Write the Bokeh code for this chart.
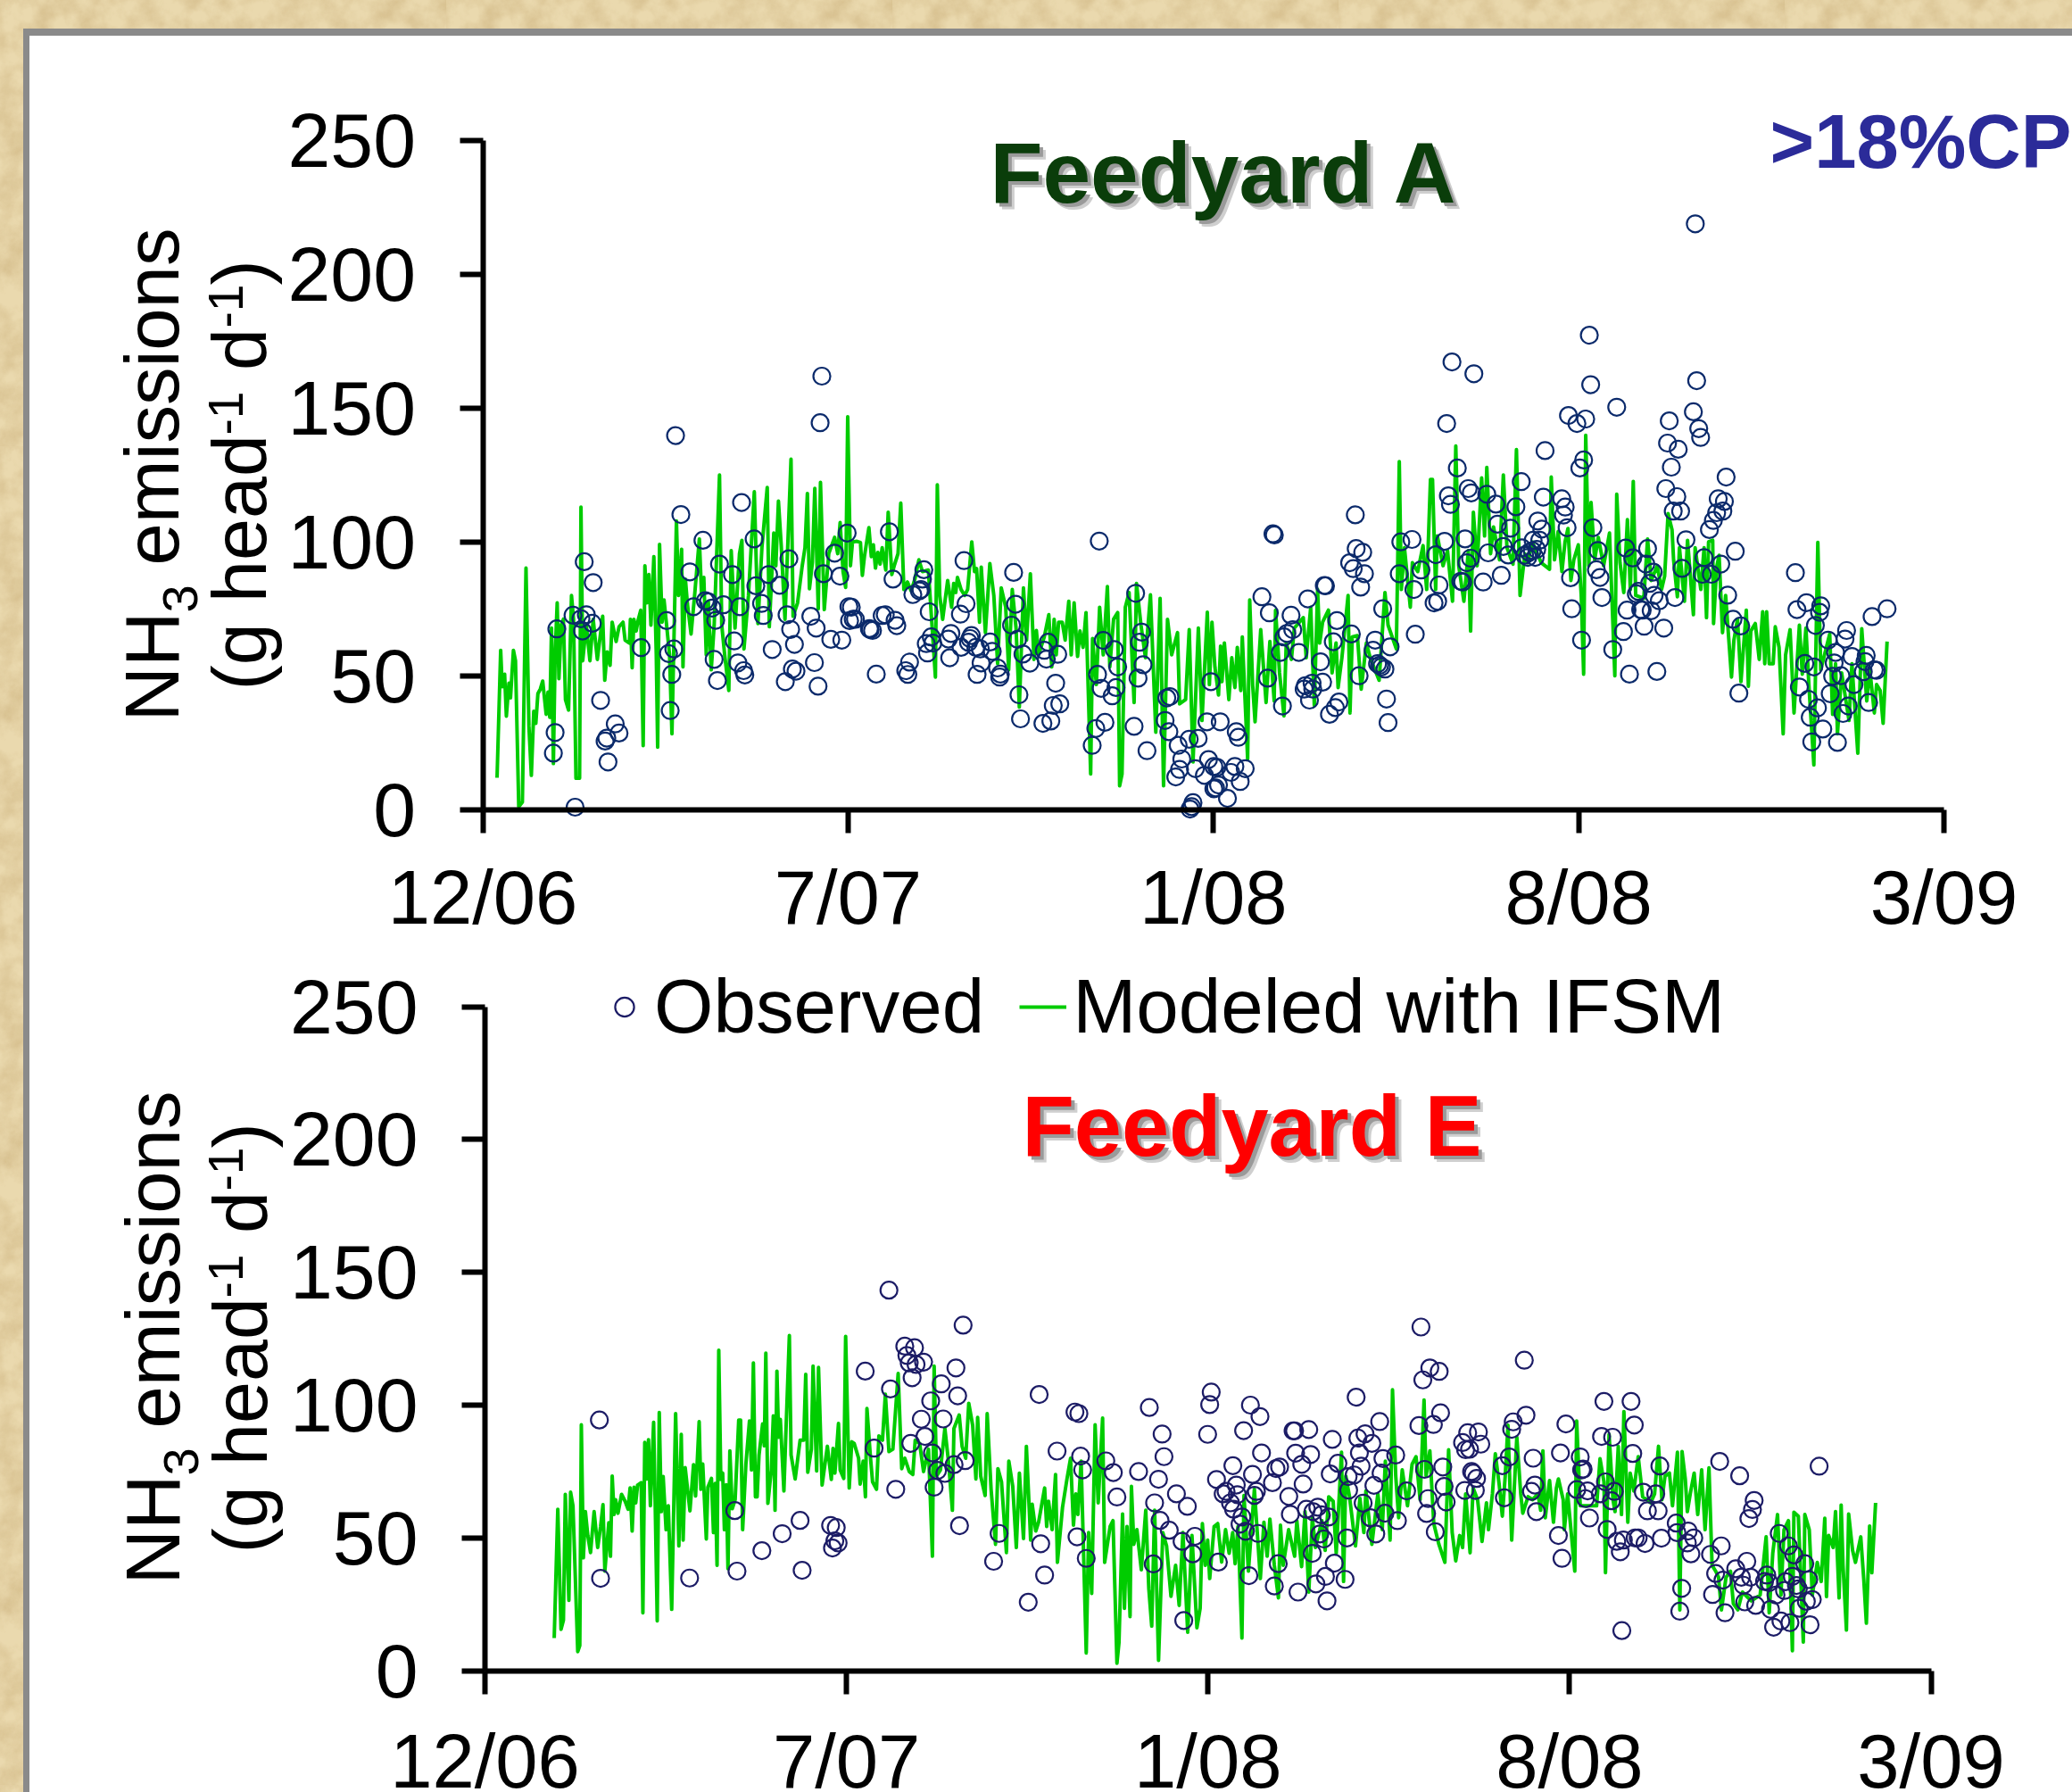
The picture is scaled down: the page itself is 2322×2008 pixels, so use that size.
from bokeh.plotting import figure
from bokeh.layouts import column
from bokeh.models import FixedTicker, Label, Legend, LegendItem
from bokeh.embed import file_html
from bokeh.resources import INLINE

month_ticks = [0, 212, 424, 636, 848]
month_labels = ["12/06", "7/07", "1/08", "8/08", "3/09"]
value_ticks = [0, 50, 100, 150, 200, 250]

observed_a = [
(196.8,162),(195.8,144.6),(111.9,139.8),(115,110.3),(150.2,114.8),(127.8,100.7),(157.5,101.2),(211.5,103.4),(58.9,92.7),(64.1,84.9),
(120.2,88.9),(137.4,91.8),(144.9,87.9),(165.9,87.9),(158.5,83.7),(172.3,83.9),(177.7,93.8),(204.2,95.9),(197.7,88.2),(207.3,87.3),
(52.4,72.7),(60.1,72.9),(57,71.4),(63.6,69.7),(57.9,66.8),(43,67.6),(106.7,70.7),(122.4,75.9),(129.2,78.1),(130.9,77.7),
(133.1,75.4),(139.7,76.6),(149.2,75.9),(135.2,70.8),(161.8,77.1),(162.8,72.6),(176.6,72.9),(178.7,67.4),(190.4,72.3),(193.5,67.9),
(202,63.7),(208.4,63.4),(212.5,75.9),(215,71.2),(91.9,60.6),(145.9,63.1),(168,59.9),(180.9,61.8),(110.9,60.1),(107.8,58.4),
(109.7,50.6),(134.3,56.2),(136.2,48.3),(148.1,54.9),(151.4,52),(152.1,50.4),(179.7,52.6),(181.8,51.8),(175.6,47.9),(192.5,55),
(194.6,46.2),(108.8,37.1),(68.4,40.9),(76.9,32.1),(79.1,28.7),(72,26.8),(71,25.7),(42,28.9),(41,21.2),(72.7,17.9),(53.6,1),
(236,103.9),(238.1,86.2),(256,89.7),(255.2,86.2),(254.3,82.3),(253.4,81.8),(249.6,80.4),(259.1,74),(279.3,93.1),(280.5,77),
(277.2,73.1),(308.1,88.7),(309.2,76.8),(306.9,69),(310.4,63.7),(357.8,100.4),(378.9,80.9),(382.4,66.4),(381.1,62.6),(360.1,63.3),
(366.5,59.9),(368.5,53.4),(383.2,54.2),(380.3,49.2),(356.8,50.6),(358.9,45.4),(367.5,45.7),(365.3,42.6),(361.1,32.7),(355.8,30.4),
(353.7,24.1),(378,31.2),(385.5,22.1),(398.8,42.3),(397,41.8),(396,33.4),(398.2,29.2),(403.6,24.1),(410,26.4),(415.2,26.7),
(420.3,32.9),(422.6,47.9),(405.7,19),(404.4,15.1),(402.2,12.3),(413.6,15.4),(418.8,12.9),(421.2,18.8),(424.3,16.2),(424.3,7.9),
(412.2,2.7),(411.4,1.2),(410.5,0.3),(213.9,75.7),(216.3,71.2),(212.9,70.7),(224.9,67.3),(226.2,67),(224.4,67.7),(231.8,72.6),
(233.6,72.9),(239.3,70.8),(240.3,68.8),(228.4,50.7),(247.7,55.2),(245.5,52),(246.7,50.6),(260.3,64.6),(261.2,62.3),(257.4,62.1),
(258.1,58.6),(271.7,65.9),(270.2,63.8),(271,56.8),(283.6,65.1),(282.8,64),(281.9,62.6),(277.6,60.7),(286.2,60.7),(288.8,60.1),
(294.5,62.7),(295.7,59.2),(289.2,54.9),(286.9,50.6),(298.8,53),(300.4,50.7),(300,49.6),(313.5,58.2),(317.5,54.8),(328.2,62.6),
(325.9,59.6),(327.1,56.3),(333.7,58.1),(332.5,47.3),(311.2,43),(312.1,34),(331.1,39),(334.9,39.6),(329.7,33.2),(325.1,32.3),
(562.5,167.3),(575.2,162.9),(559.4,144.3),(630.1,147.3),(635,144.3),(640.1,146),(616.5,134.2),(565.6,127.7),(506.4,110.2),(458.6,103.1),
(459.4,102.7),(571.9,120),(573.7,118.4),(560.4,117.3),(561.6,114.1),(582.7,117.9),(588,114.2),(602.7,122.6),(599.6,113.2),(615.5,116.8),
(626.2,116.2),(628.2,113.1),(627.2,110.1),(629.3,105.4),(612.3,107.9),(614.6,104.9),(588.9,106.7),(596.5,105.2),(613.4,100.7),(609.6,100.7),
(539.3,101),(532.8,100.1),(558.2,100.3),(570.1,101.2),(553.1,95.3),(592.3,98.4),(583.5,96),(595.1,95.2),(573.3,94),(571.1,92.3),
(603,97.9),(604.7,95.1),(607.3,96.2),(606.5,94.3),(609.1,96.8),(610.8,94.3),(611.7,97.3),(631.3,86.7),(632,75.1),(506.9,97.6),
(510.7,96.2),(503.1,92.3),(505.2,90.1),(511.7,88.2),(509.5,83.2),(489.1,83.7),(488.4,83.8),(478.8,78.8),(452.2,79.6),(456.5,73.6),
(469.1,72.7),(470.1,67.3),(466.7,65.9),(465,64.6),(495.7,70.7),(493.6,62.8),(504.1,65.7),(462.9,58.8),(473.6,58.8),(486.2,55.3),
(455.5,49.2),(487.4,47.7),(481.3,47.3),(477.4,46.4),(481.7,45.1),(476.7,45.1),(479.8,41),(464.1,38.8),(496.9,40.3),(494.8,38.2),
(491.4,35.7),(508.6,50.1),(522.3,75.1),(517.9,63.4),(516.7,59.6),(526.6,60.9),(519.3,54.6),(520.5,54),(523.6,52.6),(521.6,53.4),
(524.5,41.4),(525.4,32.6),(544.5,89.6),(531.9,88.2),(540.4,82.3),(555,84),(554.2,77.9),(552.1,77.3),(568.7,85.1),(567.6,85.4),
(580.6,85.1),(591.1,87.6),(541.2,65.6),(428,32.9),(437.3,29.2),(438.5,27.1),(426.1,15.9),(442.5,15.4),(436.5,16.2),(434.2,14),
(439.6,10.6),(427,9.3),(432.2,4.3),(425.3,8.2),(703.7,218.9),(642.2,177.3),(643,158.8),(658.1,150.4),(704.5,160.3),(702.6,148.7),
(705.7,142.4),(706.8,139.1),(688.6,145.3),(687.6,137),(693.8,134.7),(689.8,128),(686.6,120),(693,117),(690.9,111.6),(695.2,111.6),
(638.9,130.7),(636.7,127.7),(721.6,124.3),(717,116.2),(720.6,115.2),(719.7,111.6),(716.1,111),(714.2,108.1),(711.9,104.7),(698.3,100.9),
(726.9,96.6),(708.8,94.2),(718.5,91.8),(696,90.2),(707.8,88),(713,88),(644.3,105.4),(647.2,96.9),(646.3,89.7),(648.4,86.8),
(649.5,79.3),(637.7,63.4),(655.8,59.9),(662,66.6),(665.5,50.7),(681.4,51.7),(663.3,97.8),(667.4,94.1),(676,97.6),(675,91.8),
(679.3,88.8),(677.2,84.6),(670.7,81.6),(669.5,80.7),(679.8,80.1),(682.8,78.1),(691.9,79.3),(664.1,74.6),(672,74.8),(672.9,74.6),
(678.1,74.4),(674,68.6),(685.4,67.9),(722.5,80.2),(725.6,71.2),(730.1,68.7),(729,43.6),(761.8,88.6),(768.2,77.4),(762.7,74.8),
(776.5,76.2),(775.8,73.8),(773.4,68.9),(815,75.1),(806.3,72.2),(791.5,67),(790.6,63.8),(780.8,63.4),(785.1,58.8),(784.3,54.9),
(794.6,57.3),(802.9,57.7),(802.2,55.4),(801.2,51.6),(807.6,52.3),(808.8,52.1),(767.3,54.7),(772.5,53.4),(783.4,49.9),(788.2,50.1),
(795.8,46.8),(764.1,45.9),(782,43.4),(769.4,41.3),(774.6,38.1),(770.4,34.6),(792.5,38.8),(789.4,36),(804.3,40.1),(777.7,30.2),
(771.3,25.4),(786.2,25.2),
]

modeled_a = [
(8.3,12),(10.4,59.6),(11.3,46),(12.7,50.7),(13.7,35),(15.2,47.3),(16.1,41.8),(17.8,59.6),(19,55.7),(20.9,1.2),(23,2.9),(25.1,90.3),
(26.8,31.2),(28.2,12.9),(29.6,36.8),(30.8,32.3),(32,43.4),(33.4,45.1),(34.8,48.1),(36.8,35.7),(37.9,44),(38.9,34.6),(39.9,67.9),(41,17.3),
(42,57.9),(43.2,77.3),(44.2,49),(45.5,69),(46.8,71.2),(48,41.2),(49.8,37.3),(51.5,80.1),(52.7,71.2),(54.1,11.8),(56.2,11.8),(57,113.1),
(58,55.7),(60.1,69),(62.2,55.7),(64.1,71.2),(66.5,56.2),(69.6,72.3),(70.8,48.4),(72.2,59),(73.9,54),(75.1,70.1),(77.4,62.9),(79.1,68.4),
(81.4,70.1),(82.6,63.4),(85.1,62.3),(85.7,71.2),(86.7,53.1),(87.7,71.2),(89,66.8),(90.3,71.2),(91.7,74.6),(93.1,24),(94.1,91.2),(95.2,77.3),
(96.4,87.9),(97.6,69),(99.3,94.6),(100.7,57.9),(101.5,23.4),(102.6,99.2),(104.1,70.1),(105.2,78.4),(106.7,69),(108.4,57.9),(109.8,28.4),(111.4,76.8),
(112.4,107.9),(113.6,80.1),(115.4,97.3),(116.2,53.4),(117.6,86.2),(118.8,76.8),(120.9,65.7),(123.1,81.2),(125.7,101.2),(127,80.1),(128.3,86.8),(129.7,57.9),
(130.9,77.9),(132.6,52.3),(134.3,69),(137.4,125.1),(138.7,69),(140.4,57.9),(142.8,44.6),(144.2,96.8),(146.4,67.9),(149,95.7),(150.4,100.7),(151.6,60.1),
(154.2,80.1),(157.6,118.8),(159.7,69.6),(162,97.9),(165.1,120.4),(166.3,68.4),(168.9,103.4),(170.1,91.2),(171.6,115.3),(173.2,99),(175.4,71.2),(178.9,131),
(180.1,72.3),(182.7,77.3),(185.3,90.7),(187,97.9),(188.4,118.2),(189.6,82.6),(191.3,92.3),(192.7,120.1),(194.7,75.1),(196,122.3),(198.2,74.8),(200.8,95.7),
(204.2,101.8),(206,95.7),(207.4,107.3),(209.1,89),(210.6,83.1),(211.8,146.8),
(213.4,91.2),(214.6,100.1),(217.2,100.3),(219.2,99.9),(220.3,87.6),(221.5,94.6),(224.1,105.4),(225.5,94.6),(226.7,99),(227.9,90.3),(229.3,96.2),(230.6,91.8),
(231.8,97.9),(233.9,89.6),(235.3,111.2),(237.4,87.9),(238.8,91.2),(241,95.7),(242.6,114.6),(244.4,82.3),(246.5,85.1),(248.6,81.8),(250.8,86.2),(253.1,93.4),
(255.2,89),(258.6,89.6),(262.7,49.6),(263.8,121.4),(265.2,80.1),(266.9,71.2),(269.8,85.7),(272.1,75.7),(273.3,84.6),(274.5,81.2),(275.5,86.8),(277.6,82.3),
(279.7,80.1),(281.4,82.3),(283.8,100.1),(285.4,89),(286.6,90.1),(288.3,70.1),(289.3,90.7),(291.7,66.2),(294.3,92),(296.6,80.1),(298.8,54.6),(300.9,82.9),
(303.5,75.7),(305.2,52.3),(307.3,82.3),(309.5,67.9),(311.4,38.4),(313.8,82.9),(315.6,63.4),(317.8,88.2),(319.9,56.2),(321.3,67),(322.5,57.9),(325.9,64.6),
(328.5,72.9),(330.2,53.4),(331.6,71.2),(332.8,57.9),(334.2,70.1),(336.3,70.1),(338,63.4),(340.1,77.9),(341.5,57.9),(343.2,77.3),(345.2,57.3),(346.6,66.8),
(348.4,60.7),(350.1,73.7),(352.8,13.4),(353.9,64),(356.1,46.8),(358,75.7),(360.1,57.9),(362.5,83.4),(363.9,53.4),(366.1,71.2),(368.5,73.7),(369.6,9),
(371,13.4),(372.9,75.7),(375.1,81.2),(378,40.1),(379.4,84.6),(382,69),(384.6,56.8),(387.5,80.3),(390.6,29),(393.1,79),(395.1,9),(397.4,71.2),
(399.8,57.9),(403.2,66.2),(404.4,39.6),(407.9,41.2),(410,67.3),(412.2,17.9),(415.3,67.9),(417.4,33.4),(420.5,73.8),(421.7,46.8),(423.2,70.1),
(424.9,53.4),(427,42.9),(428.2,61.2),(429,47.9),(430.4,62.3),(433,41.2),(434.7,56.8),(436.5,45.7),(437.9,60.7),(439.9,44.6),(440.8,64.6),(443.9,19),
(445.1,78.4),(446.8,46.8),(448.2,32.9),(451.5,67.3),(454.6,40.1),(456.8,62.9),(459.3,40.7),(460.1,74.6),(462.4,51.2),(465,35.1),(466.3,62.3),(469.3,56.2),
(471,67.9),(476.2,71.8),(477.9,56.8),(480.5,75.7),(482.6,39),(484.5,82.3),(485.7,62.3),(487.4,70.1),(490.8,74.6),(492.9,51.2),(495.2,62.3),(496.4,45.7),
(498.6,56.8),(502.2,80.1),(503.3,36.2),(504.6,64.6),(507.6,65.1),(509.8,45.1),(512.8,62.3),(515,56.8),(520.2,48.4),(523.6,81.2),(525.4,69),(530.2,60.1),
(531.9,130.1),(533.1,82.3),(534.9,97.9),(538.3,75.7),(539.5,92.3),(542.6,89),(545.7,98.7),(547.8,82.3),(550,123.4),(551.2,123.4),(553,82.3),(554,102.3),
(557.3,91.2),(559.9,96.8),(562.8,77.9),(564.7,135.9),(566.4,91.2),(569.4,77.9),(572,96.8),(573.3,66.8),(574.9,111.2),(577.1,91.2),(579.7,124),(581.4,102.3),
(582.7,127.9),(584.9,95.7),(586.6,105.7),(590.1,93.4),(592.3,125.1),(594.4,97.9),(597.9,91.8),(599.9,134.6),(602,80.1),(604.8,95.7),(606.5,92.3),(609.1,100.1),
(614.3,92.3),(619.1,89.9),(620.1,124.3),(622,93.4),(624.1,104),(626.3,89),(628.1,100.1),(629.8,105.1),(631.5,85.7),(633.2,93.4),(635.8,99),(637.5,80.1),
(638.9,50.7),(640.1,139.9),(641.9,91.2),(643.2,114.8),(645.3,93.4),(647.4,101.8),(650.5,91.2),(653.9,103.4),(657,50.1),(658.1,117.9),(660,92.3),(662.2,81.2),
(664.3,108.4),(666,82.3),(667.7,122.7),(669.1,80.1),(673.8,79),(676,101.2),(678.1,85.7),(681.6,91.2),(684.1,82.3),(685.9,87.3),(687.9,110.7),(690.2,104.6),
(691.1,93.4),(693.3,79.6),(694.5,97.9),(697.4,77.9),(699.2,100.7),(702.6,72.9),(703.6,97.9),(706.9,82.3),(708.8,97.9),(710.2,71.8),(711.4,100.1),(713.8,100.7),
(714.3,69.6),(716.1,90.7),(717.5,95.1),(719.5,66.2),(721.3,80.1),(724.7,49.6),(726.1,63.4),(728.2,71.2),(730.2,47.9),(733.3,74.6),(734.5,46.2),(735.9,66.8),
(738.5,69.6),(740.8,56.2),(742.8,74),(744,54.6),(745.1,74),(746.6,54.6),(748.9,54.6),(750.1,68.4),(752.3,60.7),(754.7,28.4),(756.1,57.9),(758.7,67.3),
(761,36.2),(764.1,69),(765.8,50.7),(767.9,67.9),(769.6,46.8),(772.5,16.8),(774.8,99.9),(776.5,52.3),(781.7,65.7),(783.4,35.7),(785.1,54.6),(786.2,28.4),
(788.6,51.2),(792.9,33.4),(794.6,54.6),(798,21.2),(800.3,67.7),(803.2,40.7),(805,52.3),(807.6,36.2),(808.9,46.8),(811,44.6),(812.7,32.3),(815,62.9),
]

observed_e = [
(67.1,94.4),(67.8,34.8),(120,34.9),(146.5,60.3),(147.8,37.5),(162.4,45.2),(174.3,51.6),(184.8,56.6),(186,37.8),(202.7,54.7),(206,53.9),(205.2,48.9),
(207.1,48.1),(203.8,46.2),(223,112.8),(228.2,83.8),(236.9,143.3),(280.4,130.1),(246.2,122.2),(251.9,121.6),(247.4,118.7),(248.8,115.9),(252.8,115.3),(257.2,116.2),
(250.5,110.3),(276.2,114),(237.8,106.1),(267.6,108),(261.4,101.6),(277.2,103.5),(255.9,94.7),(268.7,94.8),(258,88.2),(249.7,85.6),(262.4,82),(240.9,68.3),
(265.4,75.4),(269.7,74.3),(275.1,77.6),(281.6,79.1),(263.4,69.1),(278.3,54.6),(325,104),(346,97.4),(348.3,96.8),(389.6,99.1),(397.1,89.1),(398.2,80.6),
(335.5,82.7),(349.3,80.8),(350.5,75.6),(364.1,79),(368.5,74.6),(383.3,75),(395,72.1),(370.6,65.4),(392.7,63.2),(405.5,66.6),(411.9,61.9),(395.9,56.6),
(401.3,52.9),(416.3,50.6),(408.8,48.7),(415.1,44),(391.9,40.2),(409.8,18.9),(301.5,51.7),(325.9,47.8),(347.2,50.4),(352.6,42.3),(298.3,41.2),(328.2,36),
(318.6,25.8),(425.9,104.9),(425,100.2),(423.8,89),(448.9,100),(454.5,95.7),(444.9,90.4),(473.9,90.3),(474.8,90.3),(483.1,90.8),(455.4,82),(475.4,81.9),
(484.2,81.4),(479,77.7),(496.9,87.1),(438.6,77.2),(429,72),(450.1,73.9),(466,76.7),(463.9,76.1),(461.8,70.8),(479.8,70.3),(440.6,69.9),(432.9,66.6),
(434.6,67.5),(441.2,66.3),(452.4,67.5),(451.2,66),(437.2,63.2),(439,60.8),(443.9,57.9),(442.8,55.2),(446,52.5),(453.3,51.7),(471.4,65.6),(472.3,58.9),
(481.7,60.8),(488.4,61.6),(485.6,59.9),(490.5,58.7),(494.8,57.9),(489.6,51.5),(491.9,49.6),(505.5,50),(485.2,44.2),(430.1,40.9),(465.2,40.3),(448,35.8),
(462.9,31.9),(476.8,29.6),(487.3,32.7),(492.9,35.5),(498.1,40.5),(504.4,34.4),(493.8,26.3),(500.2,78.1),(495.7,74.1),(506.2,73.1),(509.7,73.7),(506.5,68),
(511.9,87.6),(516.1,89.2),(520.1,85.6),(524.7,93.8),(510.9,103),(512.8,82),(526.6,79.9),(534.1,81.2),(513.8,77),(525.5,74.4),(521.3,69.8),(515,63.1),
(519.2,57.6),(527.8,59.3),(535.1,56.5),(522.4,51.5),(540.5,67.7),(548.9,129.4),(554.1,114),(559.6,112.7),(550,109.5),(609.5,116.9),(560.4,97.1),(547.7,92.3),
(556.2,92.7),(551,75.8),(561.7,76.7),(553.1,64.8),(562.5,69.4),(563.7,63.5),(552.2,59.2),(557.3,52.3),(610.5,96.2),(603,93.7),(602.1,90.9),(576.3,89.6),
(582.6,89.9),(573.3,85.9),(584,85.3),(575.1,83.2),(577.4,83.4),(600.7,80.5),(596.6,77.2),(614.7,80),(578.6,75),(579.5,74.4),(581.5,72.4),(574.6,67.9),
(580.8,67.9),(597.8,65.1),(615.7,69.9),(613.7,67.5),(616.6,59.9),(656.2,101.4),(672.1,101.4),(633.9,92.9),(654.8,88.2),(661.3,87.9),(674,92.5),(630.7,82),
(642.3,80.5),(673.1,81.8),(689,77.1),(644,75.9),(643.1,75.6),(657.1,71.1),(640.3,68.2),(646.6,67.7),(645.4,64.8),(662.3,67.5),(660.6,64),(654.1,66.6),
(679.3,67.2),(686.6,66.6),(681.7,60.2),(688,60.2),(647.7,57.5),(658.1,53.2),(698.6,55.6),(699,52),(705.6,52.6),(708.9,50),(705.1,48.1),(707.2,44),
(689.9,49.9),(676.3,50),(674.5,50),(680.3,47.9),(667.6,49.2),(663.7,48.7),(665.8,44.8),(629.5,50.9),(631.6,42.3),(701.8,31),(700.7,22.4),(666.7,15.1),
(724.1,78.8),(735.8,73.4),(782.4,77),(744.3,64.1),(743.3,60.7),(741.2,57.3),(759,51.7),(764.4,47),(767.6,43.6),(725,47),(718.7,43.8),(774,40.3),
(776.3,34.3),(740,41.2),(733.5,38.4),(721.7,36.6),(726,34.1),(736.8,35.2),(737.9,32.2),(742.2,35.2),(751.7,36),(750.4,33.6),(753.1,33.2),(766.7,35.5),
(762.7,33.5),(762.1,30.2),(769.1,32.1),(770.2,30.8),(757.1,28.5),(719.9,28.7),(738.8,25.9),(745.2,24.6),(753.9,23.1),(727.2,21.8),(778.4,26.8),(774.9,26.1),
(770.7,23.5),(760,18.7),(755.7,16.4),(765.3,18.1),(777.1,17.3),
]

modeled_e = [
(40.6,12.3),(42.7,60.8),(44.6,15.6),(46,19),(47.1,66.4),(49.2,26.5),(50.2,67.2),(51.6,62.1),(54.4,7.2),(55.6,9.5),(56.5,92.6),(57.7,42.5),
(58.9,59.9),(60.3,50.9),(61.9,44.5),(64,59.9),(66.1,46.4),(67.8,54.3),(69.2,62.5),(70.3,37.5),(72.6,55.7),(73.6,43.1),(74.6,73.3),(75.7,58.8),
(76.6,64.4),(78,59.3),(80.1,66.4),(82.2,63.8),(83.9,60.8),(85.1,68.8),(86.3,52.6),(87.4,69.1),(88.4,63.2),(89.5,69.9),(91.6,70.8),(92.6,21.8),
(93.7,86),(94.9,72.2),(95.9,87),(97,62.1),(98.9,93.5),(99.9,59.9),(101,18.8),(102.2,97.2),(103.4,59.9),(104.5,73.1),(106.2,53.1),(107.5,62.1),
(109.5,23.1),(111.8,96.8),(113.7,47),(115.1,89),(116.2,49.2),(117.4,76.5),(120.2,60.2),(122.3,77.6),(123.5,65.8),(125.6,93.8),(126.6,68.3),(127.7,77.8),
(129.8,49.6),(130.7,69.1),(132.8,72.4),(134,52),(135,70.5),(136.1,39.7),(137.1,120.7),(138.3,72),(139.4,74.4),(140.4,53.1),(141.5,70),(142.5,38.4),
(143.6,82.8),(145,61),(146.7,64.4),(148.8,94.4),(149.9,94.4),(151.1,53.1),(153,77.8),(155.1,94),(156.3,75.6),(157.4,115.9),(158.6,65.5),(159.6,65.5),
(160.7,81.2),(162.8,92.9),(163.8,84.7),(164.7,119.6),(165.9,63),(167.9,75.6),(169.1,96),(170.1,60.4),(171.2,112.8),(172.2,87.9),(173.2,94.6),(175.3,67.7),
(176.4,88.4),(178.5,126.2),(179.5,81.2),(181.9,72.2),(184.8,86.8),(186.9,86.8),(188.1,111.6),(189.3,74.7),(191.4,83.4),(192.4,114.7),(194.5,75.2),(195.6,114.2),
(197.7,69.9),(200.8,84.5),(203.1,72),(204.1,83.7),(205.2,74.4),(207.3,93.1),(208.3,75.6),(210.4,72.4),(211.5,125.9),(213.6,68.8),(215.1,86.2),(216.5,85.6),
(219.1,80),(220,70.3),(221.8,78.9),(223.1,65.5),(224,98.7),(226.1,80),(227.3,71.1),(229.6,68.3),(231,88.4),(233.1,86.8),(234.8,104.1),(236.9,82.5),
(239.2,83.4),(242.3,111.9),(244.4,76.1),(246.2,80),(248.8,75),(250.9,73.9),(252.3,86.8),(254.9,85.6),(257.2,75),(260.1,83.4),(262.4,43.1),(263.4,114.7),
(264.8,73.3),(267.1,75.6),(269.7,91.2),(271.8,78.9),(274.1,60.4),(275,91.2),(278.1,96.3),(279.8,84.5),(281.9,80),(283.7,100.7),(286,92.4),(287.9,72.2),
(288.9,95.4),(290.7,73.3),(293.3,66),(294.5,96.8),(296.8,68.3),(299.4,47.6),(300.8,76.1),(302.9,71.1),(305.8,44.5),(307.2,78.9),(309.5,69.4),(311.6,46.4),
(313.4,74.4),(315.8,49.8),(317.5,84.5),(320,49.2),(320.9,62.7),(323,52.6),(324.7,56),(328.2,68.8),(329.4,54.3),(330.5,63.8),(332.6,53.1),(334.6,73.9),
(335.7,40.8),(338.7,61.6),(341.3,72.2),(343.4,80),(345.1,54.8),(346.5,66.6),(347.7,58.8),(349.6,78.9),(352.6,6.7),(354,52),(355.8,29.1),(357.8,92.6),
(359.6,63.2),(362.2,95.1),(363.4,40.8),(366.6,54.3),(368.3,56.5),(370.6,2.8),(371.8,10.6),(373.9,59),(375,23.5),(376.5,54.3),(378.3,20.4),(379.1,69.4),
(380.5,47.6),(382.3,53.1),(384.9,38),(387.5,60.4),(389.3,30.8),(391,16.8),(392.7,60.4),(395,3.9),(397.5,52),(399.7,47),(402.3,28),(405,39.7),
(407.1,24.6),(409.3,52),(412.1,14.5),(414.6,50.9),(417.5,16.2),(419.4,23.5),(420.7,55.4),(422.4,39.7),(423.8,49.2),
(425,34.7),(427.6,54.3),(429.7,55.4),(432,40.9),(434.3,53.1),(436.4,44.2),(438.5,52),(439.9,40.3),(441.6,54.3),(443.9,12.3),(445.1,66),(447.7,37.5),
(451.2,68.3),(454.7,34.7),(456.8,55.9),(458.7,43.1),(460.3,57.1),(462.9,39.7),(465.3,27.4),(466.5,54.8),(468.1,39.7),(471.3,53.1),(474.8,43.1),(476.1,56.5),
(478.9,39.2),(480.9,59.9),(483.1,29.6),(485.2,57.6),(487,46.4),(490.8,56.5),(492.7,45.3),(494.8,65.5),(497.4,63.8),(499.2,44.2),(502.3,82.3),(503.5,33.6),
(504.8,73.3),(507,65.5),(510.5,47),(513.1,64.9),(515.4,52),(516.6,67.7),(520.1,47.6),(523.6,66.6),(526.2,53.1),(528,78.9),(530.8,49.2),(532.2,105.8),
(534.1,73.3),(535.8,57.6),(537.9,75.6),(541,62.1),(543.7,77.8),(546,80.6),(548.4,64.4),(550.7,101.9),(551.9,73.3),(554.1,82.8),(556.4,55.4),(559.4,47.6),
(562.9,40.8),(565.1,83.2),(567.2,52),(569.3,41.4),(571.6,50.9),(573.3,46.4),(575.1,66.6),(577.7,44.4),(579.5,68.8),(582.1,64.4),(584.7,48.7),(587.3,63.2),
(588.5,53.1),(590.8,66.6),(592.5,81.7),(594.8,69.9),(596.6,58.2),(598.3,73.3),(599.9,92.4),(602.1,49.2),(605.1,87.9),(607.4,66.6),(608.6,59.3),(611.7,65.5),
(614.4,64.4),(617.5,66.6),(619.1,60.4),(620.4,82.8),(621.8,57.6),(624.3,71.6),(626.6,55.9),(628.3,68.8),(629.5,72.2),(632.3,64.4),(633,53.1),(634.9,66.6),
(639.1,37.5),(640.2,94),(642.3,62.1),(651.9,62.1),(653.9,79.8),(656.2,71.1),(657.1,36.9),(659.2,89),(661.5,64.4),(662.7,59.9),(664.6,84.5),(666.5,58.8),
(667.9,97.6),(670.2,55.9),(671.6,74.4),(673.7,67.7),(676.3,80.6),(678.9,65.5),(681.2,64.4),(683.6,63.2),(685.9,66.6),(688.2,84.5),(690.2,64.4),(692,73.3),
(694.6,74.4),(696.4,62.1),(699.3,82.3),(700.7,22.9),(702,82.5),(703.9,72.2),(705.1,59.9),(706.8,66.6),(709.1,74.4),(711.2,58.8),(713.5,75.6),(715.5,53.1),
(717.8,76.4),(719.6,39.7),(721.7,37.5),(723.4,35.2),(725.1,22.9),(727.8,35.2),(730.4,37.5),(732.1,25.2),(734.7,22.9),(737.4,29.6),(742.6,26.3),(747.8,28.5),
(751.3,50.4),(753.1,21.8),(755.2,44.2),(758,58.8),(760,28.5),(761.8,53.1),(764.4,56.5),(766.7,7.5),(767.6,59.7),(770.2,58.2),(773.1,10.8),(774,58.8),
(776.6,53.1),(778.4,28.5),(781.3,40.8),(783.6,33.6),(785.7,57.4),(786.7,27.9),(788,50.9),(790.6,46.4),(792,59.9),(794.1,27.4),(795.3,62.4),(796.4,39.7),
(798.4,15.3),(799.7,59),(802,45.3),(803.7,40.8),(806.8,50.4),(808.6,34.1),(810.1,17.9),(812,54.5),(813.3,36.9),(815.5,63.2),
]

observed_a_day, observed_a_value = zip(*observed_a)
modeled_a_day, modeled_a_value = zip(*sorted(modeled_a))
observed_e_day, observed_e_value = zip(*observed_e)
modeled_e_day, modeled_e_value = zip(*sorted(modeled_e))

FONT = "Liberation Sans"
GREEN = "#00CC00"
NAVY_A = "#0B2A6B"
NAVY_E = "#1C1C66"
BASE_K = 0.36


def panel(height, page_top, x0_px, x848_px, y0_px, y250_px, x_standoff):
    """The frame fills the canvas; ranges are set so day 0 / 848 and value 0 / 250 land on the pixels given."""
    w = 2322
    dx = (x848_px - x0_px) / 848
    dy = (y0_px - y250_px) / 250
    xr = (-x0_px / dx, (w - x0_px) / dx)
    yr = ((y0_px - (page_top + height)) / dy, (y0_px - page_top) / dy)
    p = figure(width=w, height=height, x_range=xr, y_range=yr,
               toolbar_location=None, output_backend="svg",
               min_border_left=0, min_border_right=0, min_border_top=0, min_border_bottom=0,
               background_fill_color=None, border_fill_color=None, outline_line_color=None)
    p.grid.visible = False
    p.xaxis.fixed_location = 0
    p.yaxis.fixed_location = 0
    p.xaxis.ticker = FixedTicker(ticks=month_ticks)
    p.xaxis.major_label_overrides = dict(zip(month_ticks, month_labels))
    p.xaxis.bounds = (0, 848)
    p.yaxis.ticker = FixedTicker(ticks=value_ticks)
    p.yaxis.bounds = (0, 250)
    for ax, standoff, fs in ((p.xaxis, x_standoff, "85px"), (p.yaxis, 49, "86px")):
        ax.axis_line_width = 6
        ax.axis_line_color = "black"
        ax.major_tick_line_width = 6
        ax.major_tick_line_color = "black"
        ax.major_tick_in = 0
        ax.major_tick_out = 26
        ax.minor_tick_line_color = None
        ax.major_label_text_font = FONT
        ax.major_label_text_font_size = fs
        ax.major_label_text_color = "black"
        ax.major_label_standoff = standoff
    return p


def text(p, s, x, y, size, color="black", bold=False, angle=0.0):
    if angle:
        x -= BASE_K * size
    else:
        y -= BASE_K * size
    p.add_layout(Label(x=x, y=y, x_units="canvas", y_units="canvas", text=s,
                       text_font=FONT, text_font_size=f"{size}px", text_color=color,
                       text_font_style="bold" if bold else "normal",
                       text_align="left", text_baseline="alphabetic", angle=angle))


def axis_title(p, dx, dy):
    a = 1.5707963
    text(p, "NH", 201 + dx, 808 + dy, 85, angle=a)
    text(p, "3", 222 + dx, 686 + dy, 56, angle=a)
    text(p, "emissions", 201 + dx, 633 + dy, 85, angle=a)
    text(p, "(g head", 299 + dx, 773 + dy, 84.5, angle=a)
    text(p, "-1", 272 + dx, 487 + dy, 55, angle=a)
    text(p, "d", 299 + dx, 414.5 + dy, 84.5, angle=a)
    text(p, "-1", 272 + dx, 367 + dy, 55, angle=a)
    text(p, ")", 299 + dx, 319 + dy, 84.5, angle=a)


def title(p, s, x, y, size, color):
    text(p, s, x + 7, y + 7, size, "#CFCFCF", True)
    text(p, s, x + 4, y + 4, size, "#9A9A9A", True)
    text(p, s, x, y, size, color, True)


top_h, bottom_h = 1080, 928

a = panel(top_h, 0, 540.5, 2178, 907, 157, 24)
a.line(modeled_a_day, modeled_a_value, line_color=GREEN, line_width=4, line_join="round")
a.scatter(observed_a_day, observed_a_value, marker="circle", size=19, fill_color=None,
          line_color=NAVY_A, line_width=2.2)
axis_title(a, 0, 0)
title(a, "Feedyard A", 1109, 228, 96.5, "#0A3D0A")
text(a, ">18%CP", 1983, 189, 85, "#2B2B99", True)

e = panel(bottom_h, top_h, 543, 2163.5, 1871.6, 1127.6, 28)
line_e = e.line(modeled_e_day, modeled_e_value, line_color=GREEN, line_width=4, line_join="round")
dots_e = e.scatter(observed_e_day, observed_e_value, marker="circle", size=19, fill_color=None,
                   line_color=NAVY_E, line_width=2.2)
axis_title(e, 0.5, 967 - top_h)
title(e, "Feedyard E", 1145, 1296 - top_h, 95.5, "#FF0000")

legend = Legend(items=[LegendItem(label="Observed", renderers=[dots_e]),
                       LegendItem(label="Modeled with IFSM", renderers=[line_e])],
                orientation="horizontal", location=(673, 2008 - 1177),
                background_fill_color=None, border_line_color=None,
                padding=0, margin=0, spacing=39, glyph_width=53, glyph_height=90,
                label_standoff=7, label_text_font=FONT, label_text_font_size="85.4px",
                label_height=90, label_text_color="black")
e.add_layout(legend, "center")

page = column(a, e, spacing=0)

texture = ("data:image/svg+xml,%3Csvg xmlns='http://www.w3.org/2000/svg' width='500' height='500'%3E"
           "%3Cfilter id='n'%3E%3CfeTurbulence type='fractalNoise' baseFrequency='0.035' numOctaves='5'/%3E"
           "%3CfeColorMatrix values='0 0 0 0 0.62 0 0 0 0 0.46 0 0 0 0 0.22 0 0 0 1.3 -0.42'/%3E%3C/filter%3E"
           "%3Crect width='500' height='500' filter='url(%23n)'/%3E%3C/svg%3E")
css = ("<style>html{overflow:hidden;background:"
       "linear-gradient(#8A8A8A,#8A8A8A) 26px 32px/100% 8px no-repeat,"
       "linear-gradient(#8A8A8A,#8A8A8A) 26px 32px/7px 100% no-repeat,"
       "linear-gradient(#fff,#fff) 33px 40px/100% 100% no-repeat,"
       f"url(\"{texture}\"),#EAD9AE;"
       "}body{background:transparent;}</style>")

html = file_html(page, INLINE)
html = html.replace("</head>", css + "</head>", 1)
open("out.html", "w").write(html)
